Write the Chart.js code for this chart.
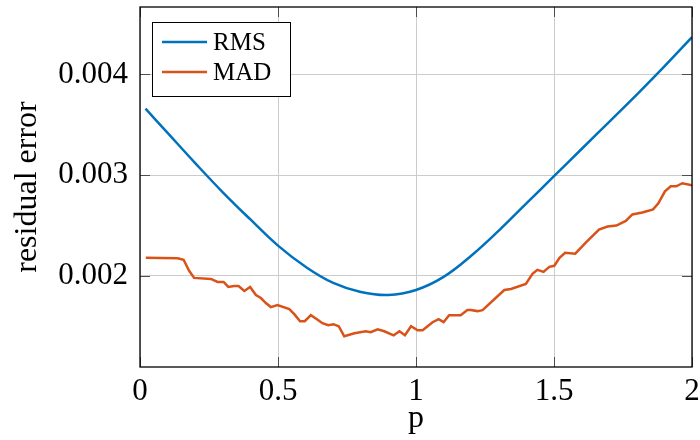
<!DOCTYPE html>
<html>
<head>
<meta charset="utf-8">
<script src="https://cdn.jsdelivr.net/npm/chart.js@4"></script>
<style>
  html, body { margin: 0; padding: 0; background: #fff; }
  canvas { display: block; }
</style>
</head>
<body>
<canvas id="myChart" width="700" height="440"></canvas>
<script>
// data
var pRms = [0.02, 0.1, 0.2, 0.3, 0.4, 0.5, 0.6, 0.7, 0.8, 0.9, 1.0, 1.1, 1.2, 1.3, 1.4, 1.5, 1.6, 1.7, 1.8, 1.9, 2.0];
var rms  = [0.00366, 0.00342, 0.00312, 0.00283, 0.00256, 0.00230, 0.00209, 0.00193, 0.00184, 0.00181, 0.00186, 0.00199, 0.00220, 0.00245, 0.00272, 0.00299, 0.00326, 0.00353, 0.00380, 0.00408, 0.00437];

var pMad = [0.021, 0.136, 0.158, 0.178, 0.196, 0.257, 0.281, 0.303, 0.32, 0.341, 0.357, 0.378, 0.399, 0.42, 0.438, 0.456, 0.474, 0.498,
            0.541, 0.559, 0.58, 0.597, 0.619, 0.641, 0.661, 0.682, 0.701, 0.72, 0.74, 0.777, 0.818, 0.836, 0.861, 0.885, 0.919, 0.94, 0.96, 0.982,
            1.006, 1.024, 1.06, 1.082, 1.1, 1.12, 1.162, 1.186, 1.198, 1.223, 1.241, 1.32, 1.344, 1.398, 1.422, 1.44, 1.462, 1.483, 1.501, 1.52,
            1.54, 1.577, 1.615, 1.663, 1.694, 1.726, 1.76, 1.784, 1.82, 1.859, 1.878, 1.902, 1.923, 1.943, 1.965, 2.0];
var mad  = [0.00218, 0.002175, 0.00216, 0.00205, 0.00198, 0.00197, 0.00194, 0.00194, 0.00189, 0.0019, 0.0019, 0.00185, 0.00189, 0.00181, 0.00178, 0.00173, 0.00169, 0.00171,
            0.00167, 0.00162, 0.00155, 0.00155, 0.00161, 0.00157, 0.00153, 0.00151, 0.00152, 0.0015, 0.0014, 0.00143, 0.00145, 0.00144, 0.00147, 0.00145, 0.00141, 0.00145, 0.00141, 0.0015,
            0.00146, 0.00146, 0.00154, 0.00157, 0.00154, 0.00161, 0.00161, 0.00166, 0.00166, 0.00165, 0.00166, 0.00186, 0.00187, 0.00192, 0.00202, 0.00206, 0.00204, 0.00209, 0.0021, 0.00218,
            0.00223, 0.00222, 0.00233, 0.00246, 0.00249, 0.0025, 0.002545, 0.00261, 0.00263, 0.00266, 0.00272, 0.00284, 0.00289, 0.00289, 0.00292, 0.0029];

var xTicks = [0, 0.5, 1, 1.5, 2];
var yTicks = [0.002, 0.003, 0.004];

var serif = '"Liberation Serif", "Times New Roman", serif';

function toPoints(xs, ys) {
    return xs.map(function(x, i) { return { x: x, y: ys[i] }; });
}

// box, inner tick marks and legend in pgfplots style
var frame = {
    id: 'frame',
    afterDraw: function(chart) {
        var c = chart.ctx, a = chart.chartArea;
        var xs = chart.scales.x, ys = chart.scales.y;
        c.save();
        c.strokeStyle = '#4d4d4d';
        c.lineWidth = 1;
        c.beginPath();
        yTicks.forEach(function(v) {
            var py = Math.round(ys.getPixelForValue(v)) + 0.5;
            c.moveTo(a.left, py); c.lineTo(a.left + 10, py);
            c.moveTo(a.right, py); c.lineTo(a.right - 10, py);
        });
        xTicks.forEach(function(v) {
            var px = Math.round(xs.getPixelForValue(v)) + 0.5;
            c.moveTo(px, a.bottom); c.lineTo(px, a.bottom - 10);
            c.moveTo(px, a.top); c.lineTo(px, a.top + 10);
        });
        c.stroke();

        c.strokeStyle = '#000';
        c.lineWidth = 1.3;
        c.strokeRect(a.left, a.top, a.right - a.left, a.bottom - a.top);

        // legend
        var lx = a.left + 12, ly = a.top + 15;
        c.fillStyle = '#fff';
        c.fillRect(lx, ly, 138, 74);
        c.lineWidth = 1;
        c.strokeRect(lx + 0.5, ly + 0.5, 138, 74);
        chart.data.datasets.forEach(function(ds, i) {
            var y = ly + 20 + i * 30;
            c.strokeStyle = ds.borderColor;
            c.lineWidth = 2.5;
            c.beginPath();
            c.moveTo(lx + 10, y); c.lineTo(lx + 55, y);
            c.stroke();
            c.fillStyle = '#000';
            c.font = '25px ' + serif;
            c.textBaseline = 'middle';
            c.fillText(ds.label, lx + 61, y + 1);
        });
        c.restore();
    }
};

var ctx = document.getElementById('myChart').getContext('2d');
var chart = new Chart(ctx, {
    type: 'line',
    data: {
        datasets: [{
            label: 'RMS',
            data: toPoints(pRms, rms),
            borderColor: '#0072BD',
            borderWidth: 2.5,
            pointRadius: 0,
            fill: false,
            tension: 0.4
        }, {
            label: 'MAD',
            data: toPoints(pMad, mad),
            borderColor: '#D95319',
            borderWidth: 2.5,
            pointRadius: 0,
            fill: false,
            tension: 0
        }]
    },
    options: {
        responsive: false,
        animation: false,
        devicePixelRatio: 1,
        layout: { padding: { top: 7, right: 8, left: 0, bottom: 0 } },
        plugins: {
            legend: { display: false },
            tooltip: { enabled: false }
        },
        scales: {
            x: {
                type: 'linear',
                min: 0,
                max: 2,
                afterBuildTicks: function(s) { s.ticks = xTicks.map(function(v) { return { value: v }; }); },
                afterFit: function(s) {
                    s.height = 73;
                    s.paddingLeft = 0; s.paddingRight = 0;
                },
                grid: { color: '#cccccc', lineWidth: 1, drawTicks: false },
                border: { display: false },
                ticks: {
                    color: '#000',
                    padding: 6,
                    maxRotation: 0,
                    font: { family: serif, size: 31 },
                    callback: function(v) { return String(v); }
                },
                title: {
                    display: true,
                    text: 'p',
                    color: '#000',
                    font: { family: serif, size: 32 },
                    padding: { top: 0, bottom: 2 }
                }
            },
            y: {
                type: 'linear',
                min: 0.001095,
                max: 0.00467,
                afterBuildTicks: function(s) { s.ticks = yTicks.map(function(v) { return { value: v }; }); },
                afterFit: function(s) {
                    s.width = 140;
                    s.paddingTop = 0; s.paddingBottom = 0;
                },
                grid: { color: '#cccccc', lineWidth: 1, drawTicks: false },
                border: { display: false },
                ticks: {
                    color: '#000',
                    padding: 12,
                    font: { family: serif, size: 31 },
                    callback: function(v) { return v.toFixed(3); }
                },
                title: {
                    display: true,
                    text: 'residual error',
                    color: '#000',
                    font: { family: serif, size: 32 },
                    padding: { top: 8, bottom: 0 }
                }
            }
        }
    },
    plugins: [frame]
});
</script>
</body>
</html>
